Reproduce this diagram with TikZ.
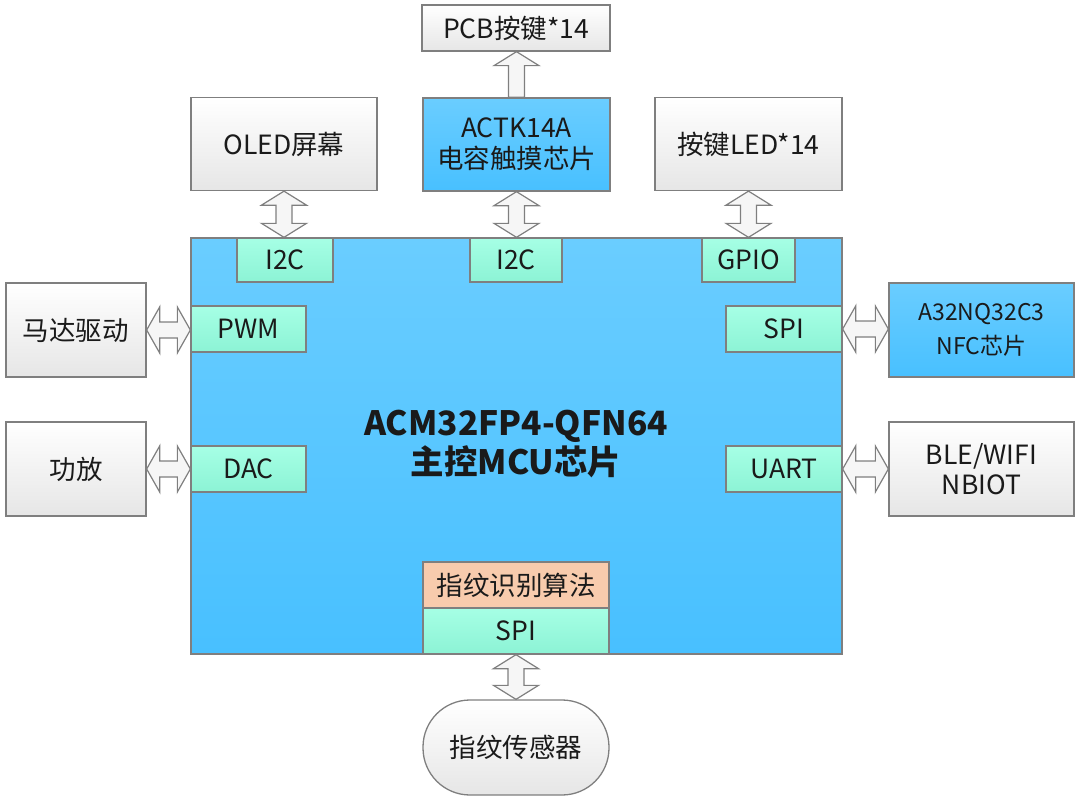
\documentclass[tikz,border=0pt]{standalone}
\usepackage{fontspec}
\setmainfont{Noto Sans CJK SC}
\usepackage{xcolor}
\usepackage{tikz}
\usetikzlibrary{calc}
\definecolor{frame}{HTML}{7F7F7F}
\definecolor{chipTop}{HTML}{6ACDFF}
\definecolor{chipBot}{HTML}{48C0FF}
\definecolor{portTop}{HTML}{A6FFE5}
\definecolor{portBot}{HTML}{8CF3D5}
\definecolor{partTop}{HTML}{FFFFFF}
\definecolor{partBot}{HTML}{E6E6E6}
\definecolor{algoFill}{HTML}{F8CBAD}
\definecolor{busFill}{HTML}{F6F6F6}
\definecolor{ink}{HTML}{1A1A1A}

% hollow double arrow, vertical: upper anchor, lower anchor
\newcommand\vbus[2]{%
  \draw[bus] let \p1=(#1), \p2=(#2) in
    (\x1,\y1) -- (\x1+22.5pt,\y1-14pt) -- (\x1+8pt,\y1-14pt) -- (\x1+8pt,\y2+14pt)
    -- (\x1+22.5pt,\y2+14pt) -- (\x1,\y2) -- (\x1-22.5pt,\y2+14pt) -- (\x1-8pt,\y2+14pt)
    -- (\x1-8pt,\y1-14pt) -- (\x1-22.5pt,\y1-14pt) -- cycle;}
% hollow double arrow, horizontal: left anchor, right anchor
\newcommand\hbus[2]{%
  \draw[bus] let \p1=(#1), \p2=(#2) in
    (\x1,\y1) -- (\x1+13pt,\y1+23pt) -- (\x1+13pt,\y1+8pt) -- (\x2-13pt,\y1+8pt)
    -- (\x2-13pt,\y1+23pt) -- (\x2,\y1) -- (\x2-13pt,\y1-23pt) -- (\x2-13pt,\y1-8pt)
    -- (\x1+13pt,\y1-8pt) -- (\x1+13pt,\y1-23pt) -- cycle;}
% hollow single arrow pointing up: lower anchor, upper anchor
\newcommand\upbus[2]{%
  \draw[bus] let \p1=(#1), \p2=(#2) in
    (\x1-8pt,\y1) -- (\x1-8pt,\y2-14pt) -- (\x1-22.5pt,\y2-14pt) -- (\x1,\y2)
    -- (\x1+22.5pt,\y2-14pt) -- (\x1+8pt,\y2-14pt) -- (\x1+8pt,\y1) -- cycle;}

\begin{document}
\begin{tikzpicture}[
  x=1pt,y=-1pt,
  box/.style={draw=frame,line width=1.3pt,inner sep=0pt,align=center,text=ink,
              font=\fontsize{26.5}{31}\selectfont},
  part/.style={box,top color=partTop,bottom color=partBot,minimum width=186pt,minimum height=93pt},
  chip/.style={box,top color=chipTop,bottom color=chipBot},
  port/.style={box,top color=portTop,bottom color=portBot,minimum height=46pt},
  bus/.style={draw=frame,line width=1.2pt,fill=busFill,line join=miter}
]
\useasboundingbox (0,0) rectangle (1080,800);

% main controller
\node[chip,minimum width=651pt,minimum height=416pt] (mcu) at (516.5,446) {};
\node[text=ink,align=center,font=\bfseries\fontsize{33.5}{39}\selectfont] (title) at (516,444)
  {ACM32FP4-QFN64\\主控MCU芯片};

% ports on the controller
\node[port,minimum width=96pt,minimum height=44pt] (i2cA) at (285,260) {I2C};
\node[port,minimum width=92pt,minimum height=44pt] (i2cB) at (516,260) {I2C};
\node[port,minimum width=93pt,minimum height=44pt] (gpio) at (748.5,260) {GPIO};
\node[port,minimum width=115pt] (pwm) at (248.5,329) {PWM};
\node[port,minimum width=115pt] (dac) at (248.5,469) {DAC};
\node[port,minimum width=116pt] (spiR) at (784,329) {SPI};
\node[port,minimum width=116pt] (uart) at (784,469) {UART};
\node[box,fill=algoFill,minimum width=186pt,minimum height=46pt] (algo) at (516,585) {指纹识别算法};
\node[port,minimum width=186pt] (spiB) at (516,631) {SPI};

% peripherals
\node[part,minimum height=46pt,minimum width=188pt] (pcb) at (516,28) {PCB按键*14};
\node[chip,minimum width=187pt,minimum height=93pt] (actk) at (516.5,144.5) {ACTK14A\\电容触摸芯片};
\node[part] (oled) at (284,144) {OLED屏幕};
\node[part,minimum width=187pt] (led) at (748.5,144) {按键LED*14};
\node[part,minimum width=140pt,minimum height=94pt] (motor) at (76,330) {马达驱动};
\node[part,minimum width=140pt,minimum height=94pt] (amp) at (76,469) {功放};
\node[chip,minimum width=185pt,minimum height=94pt,font=\fontsize{23}{34}\selectfont] (nfc) at (981.5,330)
  {A32NQ32C3\\NFC芯片};
\node[part,minimum width=185pt,minimum height=94pt,font=\fontsize{26.5}{30}\selectfont] (ble) at (981.5,469)
  {BLE/WIFI\\NBIOT};
\node[part,minimum height=95pt,rounded corners=47pt] (sensor) at (516,747.5) {指纹传感器};

% buses
\upbus{actk.north}{pcb.south}
\vbus{oled.south}{i2cA.north}
\vbus{actk.south}{i2cB.north}
\vbus{led.south}{gpio.north}
\hbus{motor.east}{pwm.west}
\hbus{amp.east}{dac.west}
\hbus{spiR.east}{nfc.west}
\hbus{uart.east}{ble.west}
\vbus{spiB.south}{sensor.north}
\end{tikzpicture}
\end{document}
